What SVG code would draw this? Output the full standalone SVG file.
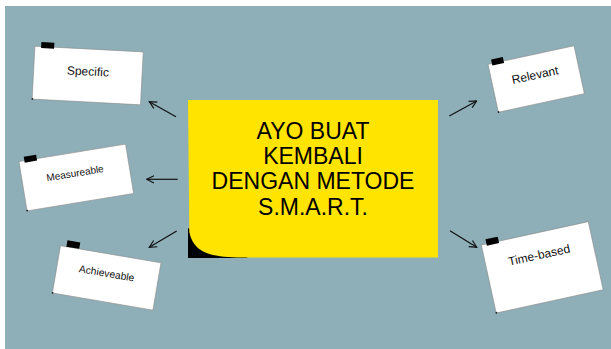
<svg xmlns="http://www.w3.org/2000/svg" width="611" height="349" viewBox="0 0 611 349">
<style>
.note{fill:#ffffff;stroke:#8a8a8a;stroke-width:0.6}
.tape{fill:#000000}
.dot{fill:#222}
.lbl{font-family:"Liberation Sans",Arial,sans-serif;fill:#111;text-anchor:middle}
.title{font-family:"Liberation Sans",Arial,sans-serif;font-size:23px;fill:#000;text-anchor:middle}
.conn{stroke:#111;stroke-width:1.2;fill:none;marker-end:url(#arr)}
</style>
<defs>
<marker id="arr" viewBox="0 0 10 10" refX="9" refY="5" markerWidth="9" markerHeight="9" markerUnits="userSpaceOnUse" orient="auto">
<path d="M1,1 L9,5 L1,9" fill="none" stroke="#111" stroke-width="1.3"/>
</marker>
</defs>
<rect x="0" y="0" width="611" height="349" fill="#ffffff"/>
<rect x="5" y="6" width="606" height="343" fill="#8eafb8"/>

<g id="main">
<polygon points="188,228 188,258 248,258" fill="#000"/>
<path d="M188,100 H438 V257.5 H242 C212,257 194,254 189.3,232 Z" fill="#ffe400"/>
<text class="title" x="313" y="138.5">AYO BUAT</text>
<text class="title" x="313" y="163.5">KEMBALI</text>
<text class="title" x="313" y="189">DENGAN METODE</text>
<text class="title" x="313" y="214.5">S.M.A.R.T.</text>
</g>

<g id="specific" transform="translate(87.7,75.5) rotate(3)">
<rect class="note" x="-54.25" y="-26.5" width="108.5" height="53"/>
<rect class="tape" x="-48" y="-31" width="13" height="6"/>
<circle class="dot" cx="-54" cy="26.3" r="0.9"/>
<text class="lbl" x="0" y="0" font-size="12">Specific</text>
</g>

<g id="measureable" transform="translate(76.3,177.5) rotate(-9.3)">
<rect class="note" x="-54" y="-25" width="108" height="50"/>
<rect class="tape" x="-48.5" y="-29" width="12.5" height="6"/>
<circle class="dot" cx="-53.8" cy="24.8" r="0.9"/>
<text class="lbl" x="-0.6" y="-1" font-size="10">Measureable</text>
</g>

<g id="achieveable" transform="translate(106.7,277.9) rotate(9.7)">
<rect class="note" x="-51" y="-24" width="102" height="48"/>
<rect class="tape" x="-45" y="-30.5" width="13" height="6.5"/>
<circle class="dot" cx="-50.8" cy="23.8" r="0.9"/>
<text class="lbl" x="-0.8" y="-1" font-size="10.3">Achieveable</text>
</g>

<g id="relevant" transform="translate(536.2,79) rotate(-12.2)">
<rect class="note" x="-44" y="-24.5" width="88" height="49"/>
<rect class="tape" x="-40" y="-28.5" width="12" height="6"/>
<circle class="dot" cx="-43.8" cy="24.3" r="0.9"/>
<text class="lbl" x="-0.3" y="0" font-size="12">Relevant</text>
</g>

<g id="timebased" transform="translate(542.25,267.35) rotate(-12.3)">
<rect class="note" x="-54.75" y="-34.85" width="109.5" height="69.7"/>
<rect class="tape" x="-49.5" y="-39.5" width="12.5" height="6.5"/>
<circle class="dot" cx="-54.5" cy="34.6" r="0.9"/>
<text class="lbl" x="-0.5" y="-8.6" font-size="12">Time-based</text>
</g>

<g id="connectors">
<line class="conn" x1="176" y1="116.7" x2="149.3" y2="101.7"/>
<line class="conn" x1="177.7" y1="179.3" x2="146.7" y2="179.3"/>
<line class="conn" x1="176.7" y1="231" x2="149.3" y2="247.3"/>
<line class="conn" x1="449.3" y1="116" x2="476.7" y2="101"/>
<line class="conn" x1="450" y1="230.7" x2="476.7" y2="247.3"/>
</g>
</svg>
